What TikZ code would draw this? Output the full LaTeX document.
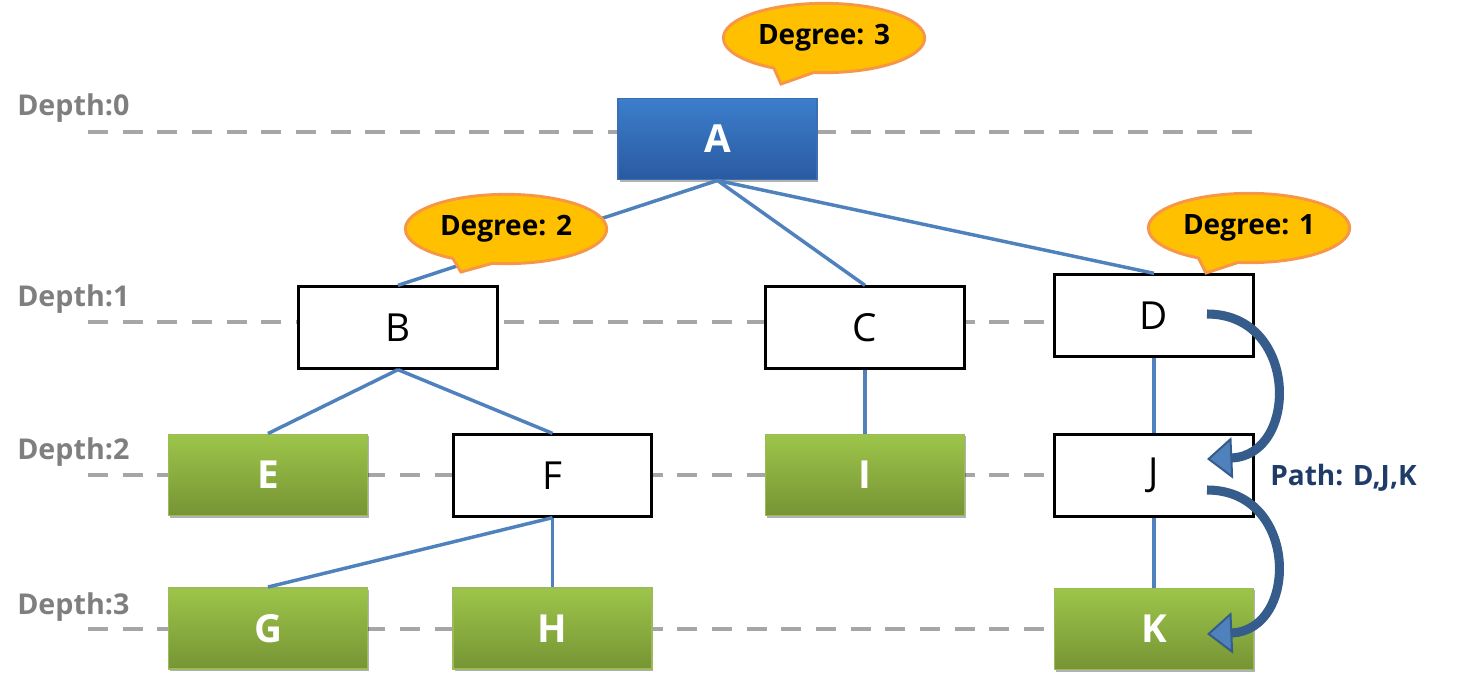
\documentclass[tikz,border=0pt]{standalone}
\usepackage{fontspec}
\setmainfont{Open Sans}
\usetikzlibrary{shapes.callouts,arrows.meta,shadows}
\definecolor{edgeblue}{RGB}{79,129,189}
\definecolor{depthgray}{RGB}{166,166,166}
\definecolor{labelgray}{RGB}{127,127,127}
\definecolor{atop}{RGB}{60,126,204}
\definecolor{abot}{RGB}{42,90,160}
\definecolor{aborder}{RGB}{60,110,180}
\definecolor{gtop}{RGB}{157,197,74}
\definecolor{gbot}{RGB}{118,148,52}
\definecolor{gborder}{RGB}{155,187,89}
\definecolor{callfill}{RGB}{255,192,0}
\definecolor{callborder}{RGB}{247,150,70}
\definecolor{pathdark}{RGB}{54,92,140}
\definecolor{pathfill}{RGB}{79,129,189}
\definecolor{pathtext}{RGB}{31,60,105}
\begin{document}
\begin{tikzpicture}[x=0.75pt,y=-0.75pt,
  box/.style={rectangle, minimum width=149pt, minimum height=61pt, inner sep=0pt,
    font=\fontsize{29}{34}\selectfont},
  whitebox/.style={box, draw=black, line width=2.25pt, fill=white},
  greenbox/.style={box, draw=gborder, line width=1.2pt, top color=gtop, bottom color=gbot,
    text=white, font=\bfseries\fontsize{29}{34}\selectfont,
    drop shadow={shadow xshift=1pt, shadow yshift=-1.5pt, opacity=0.3, fill=black}},
  bluebox/.style={box, draw=aborder, line width=1.2pt, top color=atop, bottom color=abot,
    text=white, font=\bfseries\fontsize{29}{34}\selectfont,
    drop shadow={shadow xshift=1pt, shadow yshift=-1.5pt, opacity=0.3, fill=black}},
  edge/.style={draw=edgeblue, line width=2.6pt},
  depthline/.style={draw=depthgray, line width=3pt, dash pattern=on 15pt off 11pt},
  depthlabel/.style={anchor=west, inner sep=0pt, text=labelgray,
    font=\bfseries\fontsize{21.5}{25}\selectfont},
  degcallout/.style={ellipse callout, draw=callborder, fill=callfill, line width=2.2pt,
    minimum width=151pt, minimum height=52pt, inner sep=0pt, callout pointer arc=24,
    font=\bfseries\fontsize{21}{25}\selectfont},
  pathcurve/.style={draw=pathdark, line width=6.8pt,
    -{Triangle[length=19pt,width=31pt,fill=pathfill,line width=1.5pt]}},
]
\useasboundingbox (0,0) rectangle (1457,683);

% depth guide lines
\foreach \yy/\nm in {132/0,322/1,475/2,629/3}{
  \coordinate (L\nm) at (88,\yy);
  \coordinate (R\nm) at (1262,\yy);
  \draw[depthline] (L\nm) -- (R\nm);
}
\node[depthlabel] (d0) at (17,108) {Depth:0};
\node[depthlabel] (d1) at (17,299) {Depth:1};
\node[depthlabel] (d2) at (17,452) {Depth:2};
\node[depthlabel] (d3) at (17,607) {Depth:3};

% nodes
\node[bluebox]  (A) at (717.5,139) {A};
\node[whitebox] (B) at (398,327.5) {B};
\node[whitebox] (C) at (865,327.5) {C};
\node[whitebox] (D) at (1154,315.5) {D};
\node[greenbox] (E) at (268,475) {E};
\node[whitebox] (F) at (552.5,475.5) {F};
\node[greenbox] (I) at (865,475) {I};
\node[whitebox] (J) at (1154,475.5) {J};
\node[greenbox] (G) at (268,628.5) {G};
\node[greenbox] (H) at (552.5,628.5) {H};
\node[greenbox] (K) at (1154,629) {K};

% edges
\draw[edge] (A.south) -- (B.north);
\draw[edge] (A.south) -- (C.north);
\draw[edge] (A.south) -- (D.north);
\draw[edge] (B.south) -- (E.north);
\draw[edge] (B.south) -- (F.north);
\draw[edge] (C.south) -- (I.north);
\draw[edge] (D.south) -- (J.north);
\draw[edge] (F.south) -- (G.north);
\draw[edge] (F.south) -- (H.north);
\draw[edge] (J.south) -- (K.north);

% callouts
\node[degcallout, callout absolute pointer={(781,84)}] (c3) at (824,38) {Degree: 3};
\node[degcallout, callout absolute pointer={(461,272)}] (c2) at (506,229) {Degree: 2};
\node[degcallout, callout absolute pointer={(1206,273)}] (c1) at (1249,228) {Degree: 1};

% path arrows
\coordinate (p1s) at ([shift={(53,-1.5)}]D.center);
\coordinate (p1e) at ([shift={(53,-16.5)}]J.center);
\coordinate (p2s) at ([shift={(53,14.5)}]J.center);
\coordinate (p2e) at ([shift={(53,5)}]K.center);
\draw[pathcurve] (p1s) .. controls +(92,0) and +(92,-4) .. (p1e);
\draw[pathcurve] (p2s) .. controls +(92,0) and +(92,-4) .. (p2e);
\node[anchor=west, inner sep=0pt, text=pathtext, font=\bfseries\fontsize{21}{25}\selectfont]
  (pl) at (1270,478) {Path: D,J,K};
\end{tikzpicture}
\end{document}
